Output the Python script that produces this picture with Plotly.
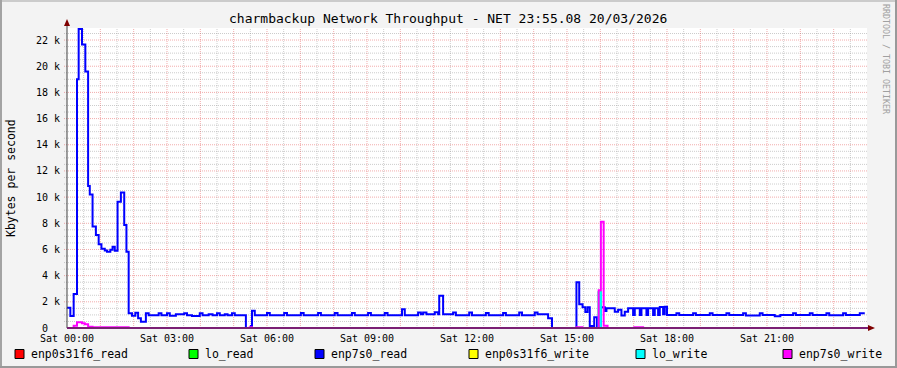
import plotly.graph_objects as go

# ---------------- data (minutes since Sat 00:00, values in Kbytes/s) ----------------
series_names = ["enp0s31f6_read", "lo_read", "enp7s0_read",
                "enp0s31f6_write", "lo_write", "enp7s0_write"]
series_colors = ["#FF0000", "#00FF00", "#0000FF", "#FFFF00", "#00FFFF", "#FF00FF"]

enp0s31f6_read_t = [0, 1436]
enp0s31f6_read_v = [0, 0]

lo_read_t = [0, 957, 961, 1436]
lo_read_v = [0, 2.73, 0, 0]

enp7s0_read_t = [0, 6, 12, 18, 21, 27, 33, 38, 41, 46, 52, 57, 62, 68, 72, 78, 82, 86, 91, 97,
                 103, 107, 111, 117, 123, 128, 133, 142, 147, 165, 170, 180, 185, 196, 211, 216,
                 225, 239, 244, 255, 262, 270, 275, 284, 289, 297, 302, 322, 331, 333, 338,
                 360, 365, 391, 396, 421, 426, 452, 457, 482, 487, 513, 518, 542, 547, 572, 577,
                 603, 608, 632, 637, 641, 647, 662, 668, 670, 677, 695, 700, 724, 729, 754, 759,
                 785, 790, 814, 819, 842, 847, 866, 873, 917, 922, 928, 933, 937, 941, 949, 954,
                 961, 968, 971, 986, 992, 998, 1004, 1010, 1019, 1022, 1031, 1034, 1043, 1046,
                 1055, 1058, 1064, 1067, 1073, 1076, 1080, 1097, 1102, 1127, 1132, 1157, 1162,
                 1187, 1192, 1217, 1222, 1247, 1252, 1274, 1284, 1307, 1312, 1337, 1342, 1367,
                 1372, 1397, 1402, 1427, 1436]
enp7s0_read_v = [1.55, 0.92, 2.6, 19.0, 22.85, 21.65, 19.6, 10.85, 10.2, 7.75, 7.1, 6.4, 6.05, 5.93,
                 5.83, 5.98, 6.2, 5.9, 9.65, 10.35, 7.87, 5.83, 1.12, 0.94, 1.17, 0.74, 0.48, 1.12,
                 0.98, 1.12, 0.98, 1.12, 0.94, 1.05, 1.12, 0.98, 0.92, 1.12, 0.98, 1.05, 0.98, 1.12,
                 0.98, 1.05, 0.98, 1.12, 0.98, 0, 0.15, 1.32, 0.98,
                 1.15, 0.98, 1.15, 0.98, 1.15, 0.98, 1.15, 0.98, 1.15, 0.98, 1.15, 0.98, 1.15, 0.98,
                 1.15, 0.98, 1.43, 0.98, 1.18, 1.05, 1.18, 1.05, 1.2, 1.05, 2.47, 1.05, 1.18, 0.98,
                 1.18, 0.98, 1.15, 0.98, 1.15, 0.98, 1.18, 0.98, 1.18, 1.05, 0.74, 0, 3.49, 1.81,
                 1.58, 1.22, 1.58, 0.15, 0.82, 0.12, 1.58, 1.3, 1.5, 1.25, 1.4, 0.95, 1.25, 1.5,
                 1.0, 1.5, 1.0, 1.5, 1.0, 1.5, 1.0, 1.5, 1.0, 1.6, 1.05, 1.62, 1.0, 1.12, 1.0,
                 1.12, 1.0, 1.12, 1.0, 1.12, 1.0, 1.12, 0.95, 1.12, 1.0, 0.9, 1.0, 1.12, 1.0, 1.12,
                 1.0, 1.12, 0.98, 1.12, 1.0, 1.12, 1.12]

enp0s31f6_write_t = [0, 1436]
enp0s31f6_write_v = [0, 0]

lo_write_t = lo_read_t
lo_write_v = lo_read_v

enp7s0_write_t = [0, 12, 18, 27, 32, 38, 46, 111, 329, 333, 917, 928, 957, 961, 966, 973,
                  1021, 1037, 1436]
enp7s0_write_v = [0, 0.18, 0.43, 0.36, 0.28, 0.1, 0.05, 0, 0.05, 0, 0.05, 0, 2.88, 8.12, 0.18, 0,
                  0.05, 0, 0]

x_tick_vals = [0, 180, 360, 540, 720, 900, 1080, 1260]
x_tick_text = ["Sat 00:00", "Sat 03:00", "Sat 06:00", "Sat 09:00",
               "Sat 12:00", "Sat 15:00", "Sat 18:00", "Sat 21:00"]
y_tick_vals = [0, 2, 4, 6, 8, 10, 12, 14, 16, 18, 20, 22]
y_tick_text = ["0\u00a0\u00a0", "2 k", "4 k", "6 k", "8 k", "10 k", "12 k",
               "14 k", "16 k", "18 k", "20 k", "22 k"]

# grid spacing (minutes / Kbytes)
x_major_step, x_minor_step = 60, 30
y_major_step, y_minor_step = 2, 0.5

title_text = "charmbackup Network Throughput - NET 23:55.08 20/03/2026"
y_title = "Kbytes per second"
side_text = "RRDTOOL / TOBI OETIKER"

# ---------------- layout geometry ----------------
W, H = 897, 368
L, R, T, B = 67, 30, 28, 40
PW, PH = W - L - R, H - T - B
XMAX, YMAX = 1440, 22.92
MONO = "DejaVu Sans Mono"


def px(x):
    return (x - L) / PW


def py(y):
    return (H - B - y) / PH


fig = go.Figure()
series = [
    (enp0s31f6_read_t, enp0s31f6_read_v),
    (lo_read_t, lo_read_v),
    (enp7s0_read_t, enp7s0_read_v),
    (enp0s31f6_write_t, enp0s31f6_write_v),
    (lo_write_t, lo_write_v),
    (enp7s0_write_t, enp7s0_write_v),
]
for (t, v), name, col in zip(series, series_names, series_colors):
    fig.add_trace(go.Scatter(x=t, y=v, mode="lines", name=name, showlegend=False,
                             line=dict(color=col, width=2, shape="hv"),
                             hoverinfo="skip"))

red_grid = "rgba(222,48,48,0.40)"
gray_grid = "rgba(143,143,143,0.45)"

fig.update_layout(
    width=W, height=H,
    margin=dict(l=L, r=R, t=T, b=B, pad=0),
    paper_bgcolor="#F3F3F3",
    plot_bgcolor="#FFFFFF",
    font=dict(family=MONO, size=10, color="#000000"),
    showlegend=False,
    xaxis=dict(range=[0, XMAX], showline=False, zeroline=False, showgrid=False,
               tickmode="array", tickvals=x_tick_vals, ticktext=x_tick_text,
               ticks="", ticklabelstandoff=3, tickfont=dict(family=MONO, size=10)),
    yaxis=dict(range=[0, YMAX], showline=False, zeroline=False, showgrid=False,
               tickmode="array", tickvals=y_tick_vals, ticktext=y_tick_text,
               ticks="", ticklabelstandoff=6,
               tickfont=dict(family=MONO, size=10)),
)

shapes = []
# ---- grid (minor gray first, then major red) ----
grid_dash = "1px,1px"
nx = int(XMAX // x_minor_step)
for i in range(1, nx):
    xv = i * x_minor_step
    major = (xv % x_major_step == 0)
    if major:
        continue
    shapes.append(dict(type="line", xref="x", yref="paper", x0=xv, x1=xv, y0=0, y1=1,
                       layer="below", line=dict(color=gray_grid, width=1, dash=grid_dash)))
ny = int(YMAX // y_minor_step)
for i in range(1, ny + 1):
    yv = i * y_minor_step
    if yv % y_major_step == 0:
        continue
    shapes.append(dict(type="line", xref="paper", yref="y", x0=px(64), x1=1, y0=yv, y1=yv,
                       layer="below", line=dict(color=gray_grid, width=1, dash=grid_dash)))
for i in range(1, nx // 2):
    xv = i * x_major_step
    shapes.append(dict(type="line", xref="x", yref="paper", x0=xv, x1=xv, y0=0, y1=1,
                       layer="below", line=dict(color=red_grid, width=1, dash=grid_dash)))
for yv in y_tick_vals[1:]:
    shapes.append(dict(type="line", xref="paper", yref="y", x0=px(64), x1=1, y0=yv, y1=yv,
                       layer="below", line=dict(color=red_grid, width=1, dash=grid_dash)))

# axes with arrows
shapes.append(dict(type="line", xref="paper", yref="paper",
                   x0=px(67), x1=px(67), y0=py(328), y1=py(22),
                   line=dict(color="#404040", width=1)))
shapes.append(dict(type="line", xref="paper", yref="paper",
                   x0=px(67), x1=px(869), y0=py(328), y1=py(328),
                   line=dict(color="#7A1F74", width=2)))
shapes.append(dict(type="path", xref="paper", yref="paper",
                   path=f"M {px(64)} {py(26)} L {px(70)} {py(26)} L {px(67)} {py(19)} Z",
                   fillcolor="#7F0000", line=dict(color="#7F0000", width=0)))
shapes.append(dict(type="path", xref="paper", yref="paper",
                   path=f"M {px(868)} {py(325)} L {px(868)} {py(331)} L {px(875)} {py(328)} Z",
                   fillcolor="#7F0000", line=dict(color="#7F0000", width=0)))
# 3D frame
shapes.append(dict(type="rect", xref="paper", yref="paper",
                   x0=px(0), x1=px(W), y0=py(2), y1=py(0),
                   fillcolor="#CBCBCB", line=dict(width=0)))
shapes.append(dict(type="rect", xref="paper", yref="paper",
                   x0=px(0), x1=px(2), y0=py(H), y1=py(0),
                   fillcolor="#A3A3A3", line=dict(width=0)))
shapes.append(dict(type="rect", xref="paper", yref="paper",
                   x0=px(0), x1=px(W), y0=py(H), y1=py(H - 2),
                   fillcolor="#999999", line=dict(width=0)))
shapes.append(dict(type="rect", xref="paper", yref="paper",
                   x0=px(W - 2), x1=px(W), y0=py(H), y1=py(0),
                   fillcolor="#999999", line=dict(width=0)))

annotations = []
legend_box_x = [15, 189, 315, 469, 636, 783]
for bx, name, col in zip(legend_box_x, series_names, series_colors):
    shapes.append(dict(type="rect", xref="paper", yref="paper",
                       x0=px(bx), x1=px(bx + 9), y0=py(358.5), y1=py(349.5),
                       fillcolor=col, line=dict(color="#000000", width=1)))
    annotations.append(dict(text=name, xref="paper", yref="paper",
                            x=px(bx + 14), y=py(354), xanchor="left", yanchor="middle",
                            showarrow=False, font=dict(family=MONO, size=11.5, color="#000")))

annotations.append(dict(text=title_text, xref="paper", yref="paper",
                        x=px(448), y=py(19), xanchor="center", yanchor="middle",
                        showarrow=False, font=dict(family=MONO, size=13, color="#000")))
annotations.append(dict(text=y_title, xref="paper", yref="paper", textangle=-90,
                        x=px(11), y=py(178), xanchor="center", yanchor="middle",
                        showarrow=False, font=dict(family=MONO, size=11.5, color="#000")))
annotations.append(dict(text=side_text, xref="paper", yref="paper", textangle=90,
                        x=px(886), y=py(59), xanchor="center", yanchor="middle",
                        showarrow=False, font=dict(family=MONO, size=8.3, color="#A0A0A0")))

fig.update_layout(shapes=shapes, annotations=annotations)
fig.write_html("out.html")
